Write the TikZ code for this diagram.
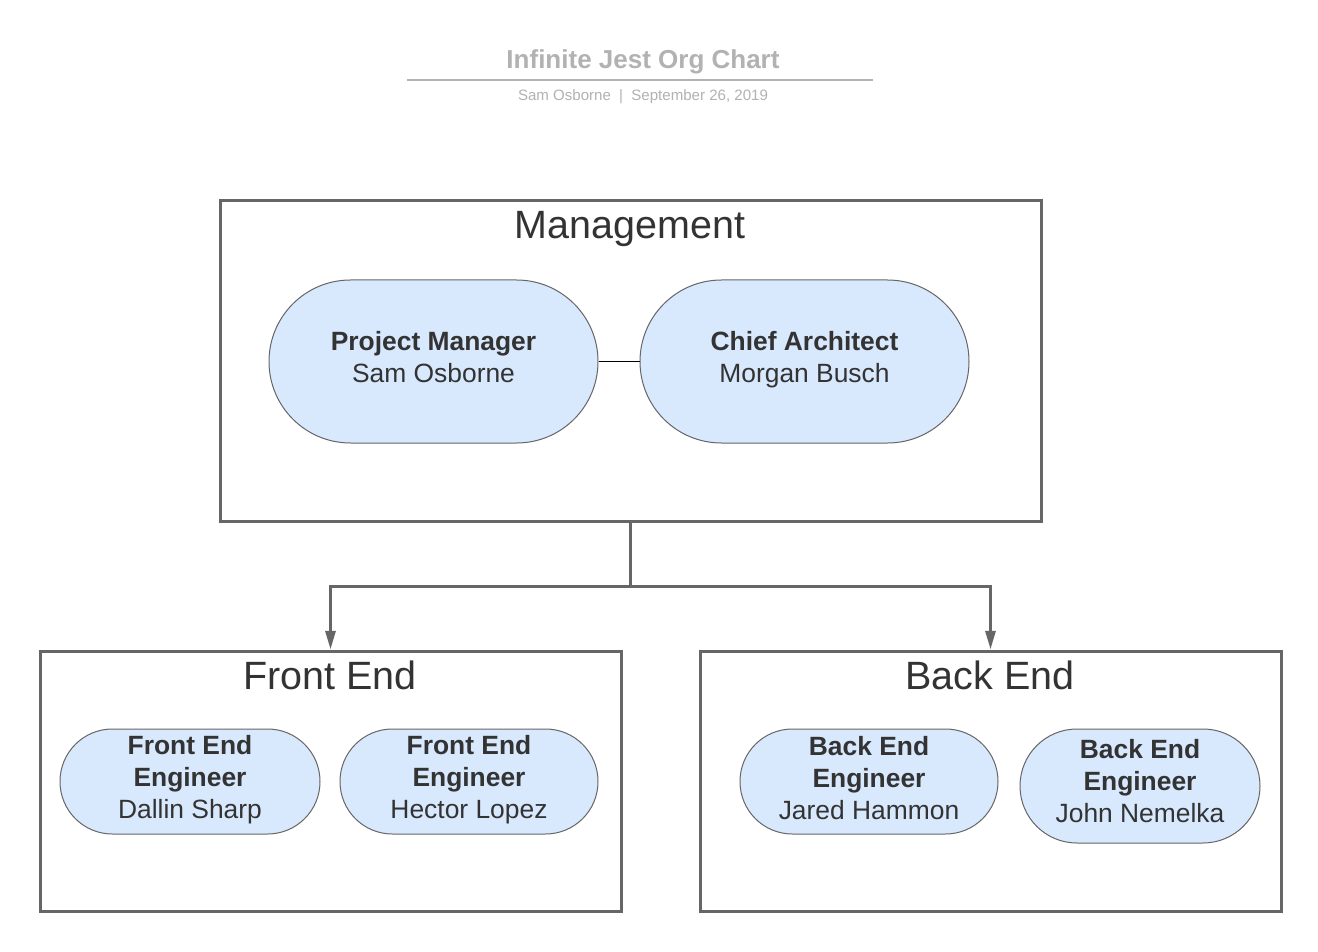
\documentclass[tikz,border=0pt]{standalone}
\usepackage{fontspec}
\setmainfont{Liberation Sans}
\usetikzlibrary{arrows.meta}
\definecolor{txt}{RGB}{51,51,51}
\definecolor{lightgray}{RGB}{178,178,178}
\definecolor{stroke}{RGB}{102,102,102}
\definecolor{bluefill}{RGB}{216,232,253}
\tikzset{
  groupbox/.style={draw=stroke, line width=2.25pt, fill=white, inner sep=0pt},
  grouptitle/.style={text=txt, font=\fontsize{29.6}{36}\selectfont, inner sep=0pt, anchor=center},
  person/.style={draw=stroke, line width=0.75pt, fill=bluefill, inner sep=0pt},
  persontext/.style={text=txt, align=center, font=\fontsize{19.8}{24}\selectfont, inner sep=0pt},
  conn/.style={draw=stroke, line width=2.25pt, line join=miter},
  tip/.style={-{Triangle[length=14pt,width=7.5pt]}},
}
\begin{document}
\begin{tikzpicture}[x=0.75pt,y=-0.75pt]
\useasboundingbox[fill=white] (0,0) rectangle (1318,952);

% header
\node[text=lightgray, font=\fontsize{19.5}{24}\selectfont\bfseries, inner sep=0pt] (title) at (643,62) {Infinite Jest Org Chart};
\coordinate (hl) at (407,80);
\coordinate (hr) at (873,80);
\draw[lightgray, line width=1.5pt] (hl) -- (hr);
\node[text=lightgray, font=\fontsize{11.3}{14}\selectfont, inner sep=0pt] (sub) at (643,97) {Sam Osborne\hspace{0.55em}|\hspace{0.55em}September 26, 2019};

% group boxes
\node[groupbox, minimum width=615.75pt, minimum height=240pt] (mgmt) at (630.5,361) {};
\node[grouptitle] (mgmtt) at (630,229) {Management};
\node[groupbox, minimum width=435.75pt, minimum height=195pt] (fe) at (330.5,781) {};
\node[grouptitle] (fet) at (330,675) {Front End};
\node[groupbox, minimum width=435.75pt, minimum height=195pt] (be) at (990.5,781) {};
\node[grouptitle] (bet) at (990,675) {Back End};

% management persons
\node[person, minimum width=246.75pt, minimum height=122.25pt, rounded corners=61.1pt] (pm) at (433.5,361.5) {};
\node[persontext] (pmt) at ([yshift=3pt]pm.center) {\textbf{Project Manager}\\Sam Osborne};
\node[person, minimum width=246.75pt, minimum height=122.25pt, rounded corners=61.1pt] (ca) at (804.5,361.5) {};
\node[persontext] (cat) at ([yshift=1.4pt]ca.center) {\textbf{Chief Architect}\\Morgan Busch};
\draw[stroke, line width=0.75pt] (pm.east) -- (ca.west);

% front end persons
\node[person, minimum width=195pt, minimum height=78.75pt, rounded corners=39.3pt] (fe1) at (190,781.5) {};
\node[persontext] (fe1t) at ([yshift=1pt]fe1.center) {\textbf{Front End}\\\textbf{Engineer}\\Dallin Sharp};
\node[person, minimum width=193.5pt, minimum height=78.75pt, rounded corners=39.3pt] (fe2) at (469,781.5) {};
\node[persontext] (fe2t) at ([yshift=1pt]fe2.center) {\textbf{Front End}\\\textbf{Engineer}\\Hector Lopez};

% back end persons
\node[person, minimum width=193.5pt, minimum height=78.75pt, rounded corners=39.3pt] (be1) at (869,781.5) {};
\node[persontext] (be1t) at ([yshift=2.5pt]be1.center) {\textbf{Back End}\\\textbf{Engineer}\\Jared Hammon};
\node[person, minimum width=180pt, minimum height=85.5pt, rounded corners=42.7pt] (be2) at (1140,786) {};
\node[persontext] (be2t) at ([yshift=3.8pt]be2.center) {\textbf{Back End}\\\textbf{Engineer}\\John Nemelka};

% connectors
\coordinate (split) at (mgmt.south |- 0,586);
\draw[conn, tip] (mgmt.south) -- (split) -| (fe.north);
\draw[conn, tip] (mgmt.south) -- (split) -| (be.north);
\end{tikzpicture}
\end{document}
